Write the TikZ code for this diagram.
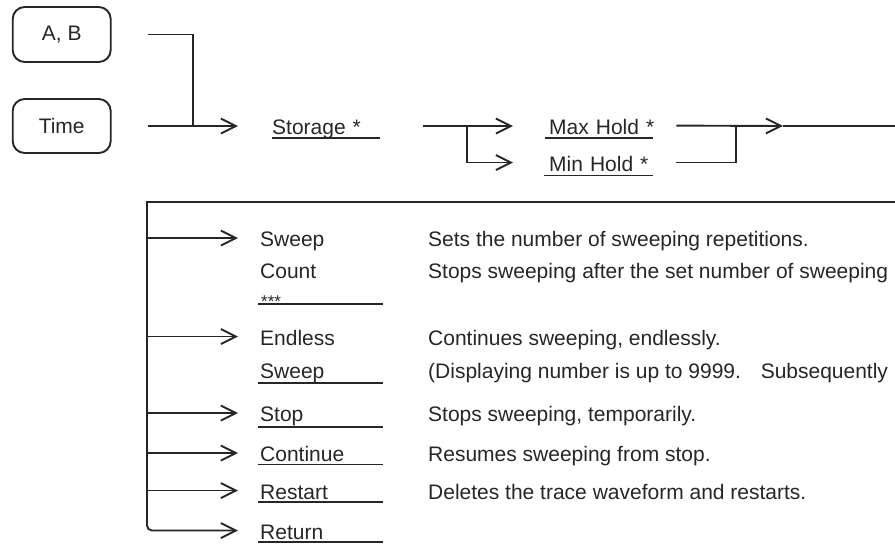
\documentclass[tikz,border=0pt]{standalone}
\usepackage{fontspec}
\setmainfont{Liberation Sans}
\usetikzlibrary{arrows.meta}
\definecolor{ink}{gray}{0.15}
\begin{document}
\begin{tikzpicture}[x=1pt,y=-1pt,
  line/.style={draw=ink, line width=1.9pt},
  arr/.style={line, -{Straight Barb[length=15pt,width=15pt]}},
  box/.style={draw=ink, line width=1.9pt, rounded corners=12pt, minimum width=98pt, minimum height=55pt, text=ink, font=\fontsize{21}{25}\selectfont},
  lab/.style={anchor=base west, inner sep=0pt, text=ink, font=\fontsize{21}{25}\selectfont, text height=17pt, text depth=0pt},
  uline/.style={draw=ink, line width=1.9pt}]
\useasboundingbox (0,0) rectangle (895,544);

% upper part
\node[box] (ab) at (61.7,34.5) {A, B};
\node[box, minimum height=54pt] (time) at (61.7,126) {Time};
\node[lab, text width=108pt, align=left] (storage) at (272,134.5) {\mbox{Storage *}};
\node[lab, text width=104pt, align=left] (maxhold) at (549,134) {\mbox{Max Hold *}};
\node[lab, text width=104pt, align=left] (minhold) at (549,171) {\mbox{Min Hold *}};
\draw[uline] (272,138) -- (380,138);
\draw[uline] (545,138) -- (653,138);
\draw[uline] (544,175.5) -- (653,175.5);

\coordinate (j1) at (193,126);
\coordinate (fork) at (467,126);
\coordinate (hA) at (783,126);
\coordinate (outR) at (895,126);
\coordinate (mj) at (736,126);

\draw[line, shorten <=36pt] (ab.east) -| (j1);
\draw[arr, shorten <=36pt, shorten >=34pt] (time.east) -- (time.east -| storage.west);
\draw[arr, shorten <=43pt, shorten >=36pt] (storage.east) -- (storage.east -| maxhold.west);
\draw[arr, shorten >=36pt] (fork) |- (minhold.west);
\draw[arr, shorten <=23pt] (maxhold.east) -- (hA);
\draw[line] (hA) -- (outR);
\draw[line, shorten <=23pt] (minhold.east) -| (mj);

% lower part
\coordinate (inR) at (895,202);
\coordinate (bus) at (147,202);

\node[lab] (swA) at (260,246.5) {Sweep};
\node[lab] (swB) at (260,278.3) {Count};
\node[lab, font=\fontsize{17}{20}\selectfont] (swC) at (261,307) {***};
\node[lab] (enA) at (260,345) {Endless};
\node[lab] (enB) at (260,378) {Sweep};
\node[lab] (stop) at (260,421.5) {Stop};
\node[lab] (cont) at (260,461.5) {Continue};
\node[lab] (rest) at (260,499) {Restart};
\node[lab] (ret) at (260,539) {Return};

\draw[uline] (258,304.3) -- (383,304.3);
\draw[uline] (258,383.3) -- (383,383.3);
\draw[uline] (258,427) -- (383,427);
\draw[uline] (258,464.5) -- (383,464.5);
\draw[uline] (258,502) -- (383,502);
\draw[uline] (258,542) -- (383,542);

\node[lab] (d1) at (428,246.5) {Sets the number of sweeping repetitions.};
\node[lab] (d2) at (428,278.3) {Stops sweeping after the set number of sweeping};
\node[lab] (d3) at (428,345) {Continues sweeping, endlessly.};
\node[lab] (d4) at (428,378) {(Displaying number is up to 9999.\hspace{12pt} Subsequently};
\node[lab] (d5) at (428,421.5) {Stops sweeping, temporarily.};
\node[lab] (d6) at (428,461.5) {Resumes sweeping from stop.};
\node[lab] (d7) at (428,499) {Deletes the trace waveform and restarts.};

\draw[line] (inR) -- ([xshift=-0.95pt]bus);
\draw[arr, rounded corners=5pt, shorten >=22pt] (bus) |- (ret.west);
\draw[arr, shorten >=22pt] (bus |- swA.west) -- (swA.west);
\draw[arr, shorten >=22pt] (bus |- enA.west) -- (enA.west);
\draw[arr, shorten >=22pt] (bus |- stop.west) -- (stop.west);
\draw[arr, shorten >=22pt] (bus |- cont.west) -- (cont.west);
\draw[arr, shorten >=22pt] (bus |- rest.west) -- (rest.west);
\end{tikzpicture}
\end{document}
